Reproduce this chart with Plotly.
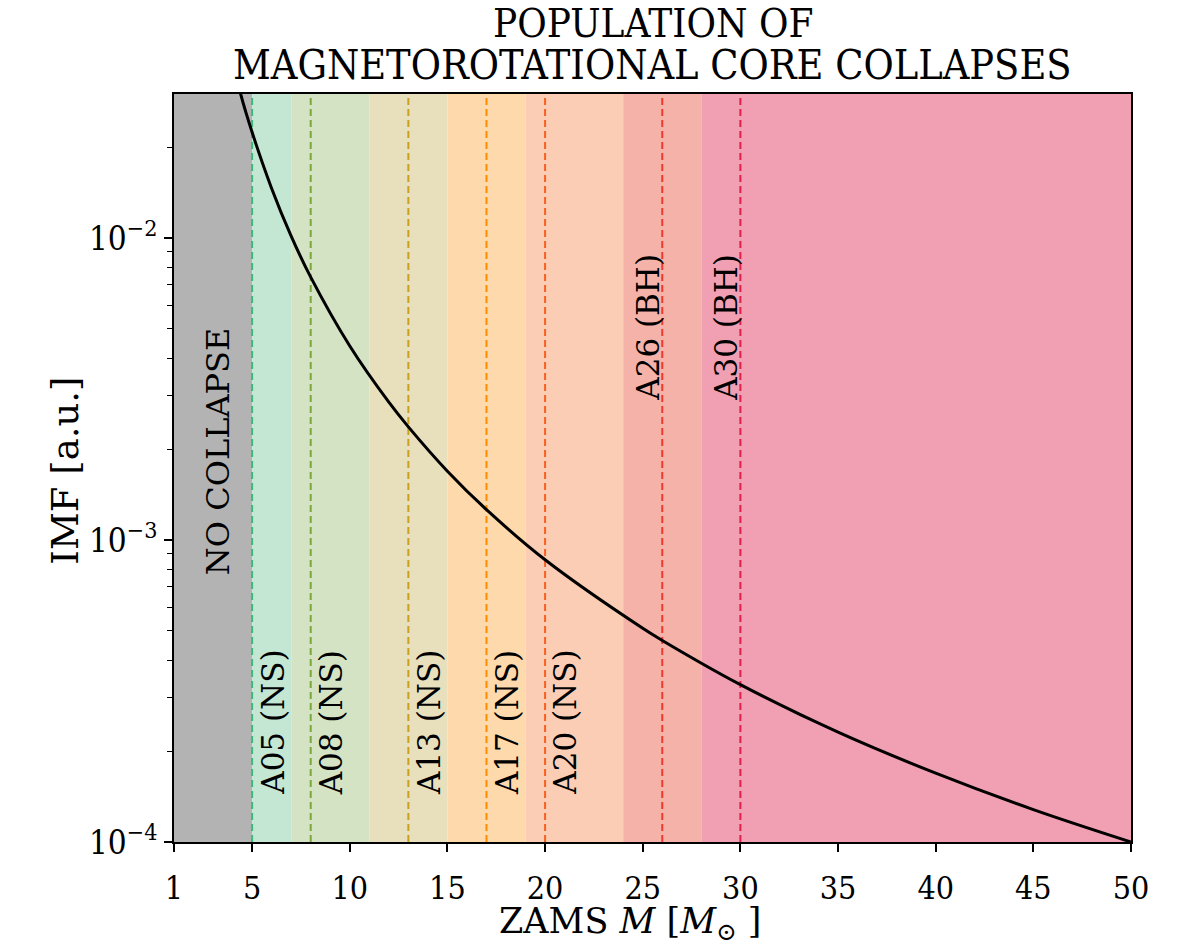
import plotly.graph_objects as go

# Stellar IMF sampled along ZAMS mass
mass = [4.0, 4.4, 5, 6, 7, 8, 10, 12, 13, 15, 17, 20, 25, 26, 30, 35, 40, 45, 50]
imf = [3.9e-2, 3.02e-2, 2.24e-2, 1.46e-2, 1.015e-2, 7.42e-3, 4.39e-3, 2.86e-3,
       2.37e-3, 1.69e-3, 1.26e-3, 8.6e-4, 5.1e-4, 4.65e-4, 3.32e-4, 2.31e-4,
       1.69e-4, 1.28e-4, 1.0e-4]

# Mass bins assigned to each progenitor model
band_edges = [1, 5, 7, 11, 15, 19, 24, 28, 50]
band_colors = ["#b3b3b3", "#c3e7d3", "#d5e3c5", "#e8dfbc", "#fed9ab",
               "#fbcdb4", "#f5b2a9", "#f0a0b2"]

# Progenitor models
model_mass = [5, 8, 13, 17, 20, 26, 30]
model_names = ["A05 (NS)", "A08 (NS)", "A13 (NS)", "A17 (NS)", "A20 (NS)",
               "A26 (BH)", "A30 (BH)"]
model_colors = ["#3cb878", "#7aa83a", "#c9a020", "#ff8c00", "#f96020",
                "#ee3a2e", "#e0204a"]

x_ticks = [1, 5, 10, 15, 20, 25, 30, 35, 40, 45, 50]
y_ticks = [1e-4, 1e-3, 1e-2]
y_ticktext = ["10<sup>−4</sup>", "10<sup>−3</sup>", "10<sup>−2</sup>"]
y_minor = [m * 10 ** e for e in (-4, -3, -2) for m in range(2, 10) if m * 10 ** e < 3e-2]

SERIF = "DejaVu Serif"
NARROW = "DejaVu Serif Condensed"

fig = go.Figure()

shapes = []
for x0, x1, c in zip(band_edges[:-1], band_edges[1:], band_colors):
    shapes.append(dict(type="rect", xref="x", yref="paper", x0=x0, x1=x1,
                       y0=0, y1=1, fillcolor=c, line_width=0, layer="below"))
for m, c in zip(model_mass, model_colors):
    shapes.append(dict(type="line", xref="x", yref="paper", x0=m, x1=m,
                       y0=0, y1=1, line=dict(color=c, width=2, dash="7px,4px"),
                       layer="below"))

fig.add_trace(go.Scatter(x=mass, y=imf, mode="lines", line_shape="spline",
                         line=dict(color="black", width=3), showlegend=False))

annotations = [
    dict(x=3.25, y=0.354, xref="x", yref="paper", text="NO COLLAPSE",
         textangle=-90, showarrow=False, xanchor="center", yanchor="bottom",
         font=dict(family=SERIF, size=32, color="black")),
]
for m, name in zip(model_mass, model_names):
    is_bh = "BH" in name
    annotations.append(dict(
        x=m, y=0.587 if is_bh else 0.060, xref="x", yref="paper", text=name,
        textangle=-90, showarrow=False,
        xanchor="right" if is_bh else "left", xshift=6 if is_bh else 0,
        yanchor="bottom", font=dict(family=SERIF, size=31, color="black")))

annotations += [
    dict(x=0.5, y=1, xref="paper", yref="paper", yshift=71, yanchor="middle",
         text="POPULATION OF", showarrow=False,
         font=dict(family=NARROW, size=40, color="black")),
    dict(x=0.5, y=1, xref="paper", yref="paper", yshift=29, yanchor="middle",
         text="MAGNETOROTATIONAL CORE COLLAPSES", showarrow=False,
         font=dict(family=NARROW, size=41, color="black")),
    dict(x=-0.138, y=0.497, xref="paper", yref="paper", text="IMF [a.u.]",
         textangle=-90, showarrow=False,
         font=dict(family=SERIF, size=37, color="black")),
    dict(x=0.4765, y=0, xref="paper", yref="paper", yshift=-81,
         yanchor="middle", text="ZAMS <i>M</i> [<i>M</i><sub>⊙</sub> ]",
         showarrow=False, font=dict(family=SERIF, size=35, color="black")),
]

fig.update_layout(
    width=1181, height=944,
    margin=dict(l=174, r=50, t=94, b=102),
    paper_bgcolor="white", plot_bgcolor="white",
    shapes=shapes, annotations=annotations, showlegend=False,
    font=dict(family=NARROW, color="black"),
)
fig.update_xaxes(range=[1, 50], tickvals=x_ticks, ticks="outside", ticklen=8,
                 tickwidth=1.5, tickcolor="black", showgrid=False, zeroline=False,
                 showline=True, linecolor="black", linewidth=2, mirror=True,
                 ticklabelstandoff=9,
                 tickfont=dict(family=NARROW, size=32, color="black"))
fig.update_yaxes(type="log", range=[-4, -1.523], tickvals=y_ticks,
                 ticktext=y_ticktext, ticks="outside", ticklen=8, tickwidth=1.5,
                 tickcolor="black", showgrid=False, zeroline=False,
                 showline=True, linecolor="black", linewidth=2, mirror=True,
                 tickfont=dict(family=NARROW, size=33, color="black"),
                 minor=dict(tickvals=y_minor, ticks="outside", ticklen=5,
                            tickcolor="black", tickwidth=1, showgrid=False))

fig.write_html("out.html")
